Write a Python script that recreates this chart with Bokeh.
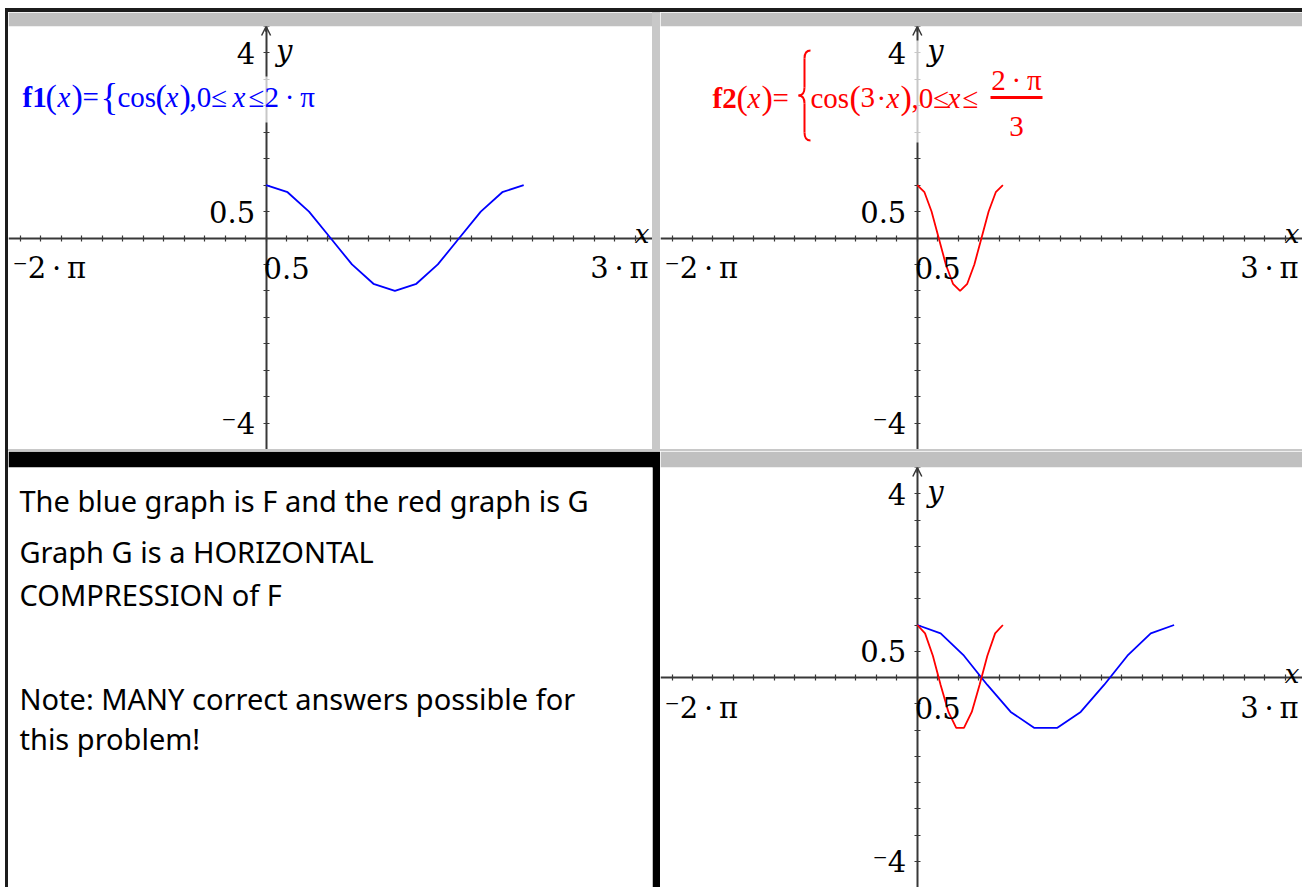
from bokeh.plotting import figure
from bokeh.layouts import row, column
from bokeh.models import (Range1d, LinearAxis, FixedTicker, Label, Arrow, OpenHead,
                          BoxAnnotation, Spacer)
from bokeh.core.properties import value
from bokeh.embed import file_html
from bokeh.resources import INLINE

PI = 3.141592653589793

# ---- graph window (same for every graph page) ----
X_MIN, X_MAX = -2 * PI, 3 * PI
Y_MIN, Y_MAX = -4, 4
X_TICKS = [k * 0.5 for k in range(-12, 19)]
Y_TICKS = [k * 0.5 for k in range(-8, 9)]

# ---- sampled function values ----
# f1(x) = cos(x), 0 <= x <= 2pi   (page 1.1)
f1_x = [0.0, 0.524, 1.047, 1.571, 2.094, 2.618, 3.142, 3.665, 4.189, 4.712, 5.236, 5.760, 6.283]
f1_y = [1.0, 0.866, 0.5, 0.0, -0.5, -0.866, -1.0, -0.866, -0.5, 0.0, 0.5, 0.866, 1.0]
# f2(x) = cos(3x), 0 <= x <= 2pi/3  (page 1.2)
f2_x = [0.0, 0.175, 0.349, 0.524, 0.698, 0.873, 1.047, 1.222, 1.396, 1.571, 1.745, 1.920, 2.094]
f2_y = [1.0, 0.866, 0.5, 0.0, -0.5, -0.866, -1.0, -0.866, -0.5, 0.0, 0.5, 0.866, 1.0]
# both functions on the combined page
g1_x = [0.0, 0.571, 1.142, 1.714, 2.285, 2.856, 3.427, 3.998, 4.570, 5.141, 5.712, 6.283]
g1_y = [1.0, 0.841, 0.415, -0.142, -0.655, -0.959, -0.959, -0.655, -0.142, 0.415, 0.841, 1.0]
g2_x = [0.0, 0.190, 0.381, 0.571, 0.762, 0.952, 1.142, 1.333, 1.523, 1.714, 1.904, 2.094]
g2_y = [1.0, 0.841, 0.415, -0.142, -0.655, -0.959, -0.959, -0.655, -0.142, 0.415, 0.841, 1.0]

# ---- tick / end labels ----
X_SCALE_LABEL = "0.5"
Y_SCALE_LABEL = "0.5"
X_MIN_LABEL = "\u207b2\u2009\u00b7\u2009\u03c0"
X_MAX_LABEL = "3\u2009\u00b7\u2009\u03c0"
Y_MAX_LABEL = "4"
Y_MIN_LABEL = "\u207b4"

# ---- notes page ----
note_lines = [
    "The blue graph is F and the red graph is G",
    "Graph G is a HORIZONTAL",
    "COMPRESSION of F",
    "Note: MANY correct answers possible for",
    "this problem!",
]

BLUE = "#0000ff"
RED = "#ff0000"
AXIS = "#383838"
BAR = "#c0c0c0"
DIVIDER = "#c8c8c8"
DARK = "#1c1c1c"
SERIF = "DejaVu Serif"
MATH = "Liberation Serif"
SANS = "Noto Sans"


def block(w, h, color):
    return Spacer(width=w, height=h, styles={"background-color": color})


def graph_page(w, h, bar):
    p = figure(width=w, height=h, toolbar_location=None, output_backend="svg",
               x_range=Range1d(X_MIN, X_MAX), y_range=Range1d(Y_MIN, Y_MAX),
               x_axis_type=None, y_axis_type=None,
               min_border_left=0, min_border_right=0, min_border_bottom=0,
               min_border_top=bar, border_fill_color=BAR,
               background_fill_color="white", outline_line_color=None)
    # pixel-like ranges for the typeset expression
    p.extra_x_ranges = {"px": Range1d(0, w)}
    p.extra_y_ranges = {"px": Range1d(h - bar, 0)}

    common = dict(axis_line_color=AXIS, axis_line_width=2,
                  major_tick_line_color=AXIS, major_tick_line_width=1.2,
                  major_tick_in=3, major_tick_out=3,
                  minor_tick_line_color=None, level="underlay")
    xa = LinearAxis(fixed_location=0, ticker=FixedTicker(ticks=X_TICKS),
                    major_label_overrides={t: "" for t in X_TICKS}, **common)
    ya = LinearAxis(fixed_location=0, ticker=FixedTicker(ticks=Y_TICKS),
                    major_label_overrides={t: "" for t in Y_TICKS}, **common)
    p.add_layout(xa, "below")
    p.add_layout(ya, "left")
    p.add_layout(Arrow(end=OpenHead(size=9, line_color=AXIS, line_width=1.5),
                       x_start=0, y_start=3.9, x_end=0, y_end=Y_MAX,
                       line_color=AXIS, line_width=2, level="overlay"))

    lab = dict(text_font=value(SERIF), text_font_size="29px", text_color="black",
               level="overlay")
    p.text(x=[0.5], y=[0], text=[X_SCALE_LABEL], text_align="center",
           text_baseline="middle", y_offset=30, **lab)
    p.text(x=[X_MIN], y=[0], text=[X_MIN_LABEL], text_align="left",
           text_baseline="middle", x_offset=4, y_offset=30, **lab)
    p.text(x=[X_MAX], y=[0], text=[X_MAX_LABEL], text_align="right",
           text_baseline="middle", x_offset=-4, y_offset=30, **lab)
    p.text(x=[0], y=[0.5], text=[Y_SCALE_LABEL], text_align="right",
           text_baseline="middle", x_offset=-11, **lab)
    p.text(x=[0], y=[Y_MAX], text=[Y_MAX_LABEL], text_align="right",
           text_baseline="middle", x_offset=-11, y_offset=26, **lab)
    p.text(x=[0], y=[Y_MIN], text=[Y_MIN_LABEL], text_align="right",
           text_baseline="middle", x_offset=-11, y_offset=-26, **lab)
    p.text(x=[0], y=[Y_MAX], text=["y"], text_align="left", text_baseline="middle",
           x_offset=10, y_offset=24, text_font=value(SERIF), text_font_size="29px",
           text_font_style="italic", text_color="black", level="overlay")
    p.text(x=[X_MAX], y=[0], text=["x"], text_align="right", text_baseline="middle",
           x_offset=-3, y_offset=-4, text_font=value(SERIF), text_font_size="26px",
           text_font_style="italic", text_color="black", level="overlay")
    return p


def typeset(p, pieces, color, veil):
    left, right, top, bottom = veil
    p.add_layout(BoxAnnotation(left=left, right=right, top=top, bottom=bottom,
                               x_range_name="px", y_range_name="px",
                               fill_color="white", fill_alpha=0.72, line_color=None))
    for txt, x, y, style, size, align in pieces:
        p.add_layout(Label(x=x, y=y, x_range_name="px", y_range_name="px", text=txt,
                           text_font=MATH, text_font_style=style,
                           text_font_size=f"{size}px", text_color=color,
                           text_align=align, text_baseline="middle"))


# ---- page 1.1 : f1 ----
tl = graph_page(644, 437, 14)
tl.line(f1_x, f1_y, line_color=BLUE, line_width=1.8)
ROW1 = 70
typeset(tl, [
    ("f1", 14, ROW1, "bold", 29, "left"),
    ("(", 37, ROW1, "normal", 34, "left"),
    ("x", 49, ROW1, "italic", 29, "left"),
    (")", 63, ROW1, "normal", 34, "left"),
    ("=", 74, ROW1, "normal", 29, "left"),
    ("{", 92, ROW1 + 1, "normal", 37, "left"),
    ("cos", 109, ROW1, "normal", 29, "left"),
    ("(", 147, ROW1, "normal", 34, "left"),
    ("x", 157, ROW1, "italic", 29, "left"),
    (")", 171, ROW1, "normal", 34, "left"),
    (",0\u2264", 181, ROW1, "normal", 29, "left"),
    ("x", 224, ROW1, "italic", 29, "left"),
    ("\u22642\u2009\u00b7\u2009\u03c0", 240, ROW1, "normal", 29, "left"),
], BLUE, (8, 312, 50, 96))

# ---- page 1.2 : f2 ----
tr = graph_page(642, 437, 14)
tr.line(f2_x, f2_y, line_color=RED, line_width=1.8)
ROW2 = 71
typeset(tr, [
    ("f2", 52, ROW2, "bold", 29, "left"),
    ("(", 76, ROW2, "normal", 34, "left"),
    ("x", 87, ROW2, "italic", 29, "left"),
    (")", 101, ROW2, "normal", 34, "left"),
    ("=", 112, ROW2, "normal", 29, "left"),
    ("cos", 150, ROW2, "normal", 29, "left"),
    ("(", 189, ROW2, "normal", 34, "left"),
    ("3", 200, ROW2, "normal", 29, "left"),
    ("\u00b7", 216, ROW2, "normal", 29, "left"),
    ("x", 226, ROW2, "italic", 29, "left"),
    (")", 240, ROW2, "normal", 34, "left"),
    (",0\u2264", 251, ROW2, "normal", 29, "left"),
    ("x", 287, ROW2, "italic", 29, "left"),
    ("\u2264", 302, ROW2, "normal", 29, "left"),
    ("2\u2009\u00b7\u2009\u03c0", 356, 53, "normal", 29, "center"),
    ("3", 356, 100, "normal", 29, "center"),
], RED, (45, 390, 14, 116))
# big brace and fraction bar of the domain
BR_X, BR_T, BR_M, BR_B, BR_W = 144, 24, 69, 114, 12
tr.quadratic(x0=[BR_X + BR_W / 2, BR_X, BR_X - BR_W / 2, BR_X],
             y0=[BR_T, BR_M - 8, BR_M, BR_B - 8],
             x1=[BR_X, BR_X - BR_W / 2, BR_X, BR_X + BR_W / 2],
             y1=[BR_T + 8, BR_M, BR_M + 8, BR_B],
             cx=[BR_X, BR_X, BR_X, BR_X],
             cy=[BR_T, BR_M, BR_M, BR_B],
             x_range_name="px", y_range_name="px", line_color=RED, line_width=2,
             level="overlay")
tr.segment(x0=[BR_X, BR_X], y0=[BR_T + 8, BR_M + 8], x1=[BR_X, BR_X], y1=[BR_M - 8, BR_B - 8],
           x_range_name="px", y_range_name="px", line_color=RED, line_width=2,
           level="overlay")
tr.segment(x0=[330], y0=[71], x1=[382], y1=[71], x_range_name="px", y_range_name="px",
           line_color=RED, line_width=3, level="overlay")

# ---- page 1.4 : both functions ----
br = graph_page(642, 436, 16)
br.line(g1_x, g1_y, line_color=BLUE, line_width=1.8)
br.line(g2_x, g2_y, line_color=RED, line_width=1.8)

# ---- page 1.3 : notes ----
notes = figure(width=652, height=436, toolbar_location=None, output_backend="svg",
               x_range=Range1d(0, 644), y_range=Range1d(420, 0),
               x_axis_type=None, y_axis_type=None,
               min_border_left=0, min_border_bottom=0, min_border_top=16, min_border_right=8,
               border_fill_color="black", background_fill_color="white",
               outline_line_color=None)
notes.text(x=[11] * len(note_lines), y=[33, 83.5, 126.5, 231, 271], text=note_lines,
           text_font=value(SANS), text_font_size="29px", text_color="black",
           text_align="left", text_baseline="middle")

top_line = row(Spacer(width=5, height=4), block(1297, 4, DARK))
pages_top = row(tl, block(8, 437, DIVIDER), tr)
pages_bottom = row(notes, br)
pages = column(pages_top, block(1294, 2, DIVIDER), pages_bottom)
body = row(Spacer(width=5, height=875), block(3, 875, DARK), pages)
root = column(Spacer(width=1302, height=8), top_line, body)

open("out.html", "w").write(file_html(root, INLINE))
